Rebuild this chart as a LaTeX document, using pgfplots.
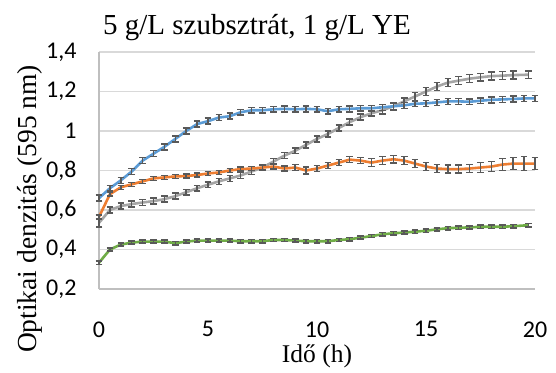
\documentclass[border=0pt]{standalone}
\usepackage{pgfplots}
\pgfplotsset{compat=1.18}
\usepackage{pgfplotstable}
\usepackage{fontspec}
\setmainfont{Liberation Serif}
\newfontfamily\carlito{Carlito}
\definecolor{cblue}{HTML}{5B9BD5}
\definecolor{corange}{HTML}{ED7D31}
\definecolor{cgray}{HTML}{A5A5A5}
\definecolor{cgreen}{HTML}{70AD47}
\definecolor{ebar}{HTML}{595959}
\definecolor{gridc}{HTML}{D9D9D9}
\definecolor{axc}{HTML}{BFBFBF}

\pgfplotstableread{
t y e
0 0.660 0.015
0.5 0.710 0.015
1.0 0.750 0.015
1.5 0.795 0.015
2.0 0.850 0.015
2.5 0.885 0.015
3.0 0.920 0.015
3.5 0.960 0.015
4.0 1.000 0.015
4.5 1.035 0.015
5.0 1.050 0.015
5.5 1.068 0.015
6.0 1.075 0.015
6.5 1.095 0.015
7.0 1.105 0.015
7.5 1.105 0.015
8.0 1.110 0.015
8.5 1.112 0.015
9.0 1.110 0.015
9.5 1.112 0.015
10.0 1.110 0.015
10.5 1.100 0.015
11.0 1.110 0.015
11.5 1.112 0.015
12.0 1.115 0.015
12.5 1.115 0.015
13.0 1.120 0.015
13.5 1.125 0.015
14.0 1.130 0.015
14.5 1.138 0.015
15.0 1.140 0.015
15.5 1.145 0.015
16.0 1.150 0.015
16.5 1.150 0.015
17.0 1.148 0.015
17.5 1.153 0.015
18.0 1.158 0.015
18.5 1.160 0.015
19.0 1.162 0.015
19.5 1.165 0.015
20.0 1.165 0.015
}\blue

\pgfplotstableread{
t y e
0 0.535 0.020
0.5 0.600 0.015
1.0 0.620 0.015
1.5 0.630 0.015
2.0 0.638 0.015
2.5 0.645 0.015
3.0 0.655 0.015
3.5 0.670 0.015
4.0 0.690 0.015
4.5 0.710 0.015
5.0 0.728 0.015
5.5 0.745 0.015
6.0 0.760 0.015
6.5 0.775 0.015
7.0 0.795 0.015
7.5 0.815 0.015
8.0 0.845 0.015
8.5 0.875 0.015
9.0 0.900 0.015
9.5 0.930 0.015
10.0 0.960 0.015
10.5 0.985 0.015
11.0 1.015 0.015
11.5 1.045 0.015
12.0 1.070 0.015
12.5 1.090 0.015
13.0 1.105 0.018
13.5 1.125 0.018
14.0 1.150 0.018
14.5 1.175 0.020
15.0 1.200 0.020
15.5 1.225 0.020
16.0 1.245 0.020
16.5 1.255 0.020
17.0 1.265 0.020
17.5 1.272 0.020
18.0 1.278 0.020
18.5 1.280 0.020
19.0 1.283 0.020
19.7 1.285 0.020
}\gray

\pgfplotstableread{
t y e
0 0.565 0.010
0.5 0.680 0.010
1.0 0.715 0.010
1.5 0.730 0.010
2.0 0.745 0.010
2.5 0.760 0.010
3.0 0.765 0.010
3.5 0.770 0.010
4.0 0.772 0.010
4.5 0.777 0.010
5.0 0.785 0.010
5.5 0.790 0.010
6.0 0.800 0.010
6.5 0.807 0.010
7.0 0.810 0.010
7.5 0.815 0.010
8.0 0.820 0.012
8.5 0.810 0.012
9.0 0.815 0.015
9.5 0.800 0.018
10.0 0.810 0.015
10.5 0.825 0.015
11.0 0.840 0.015
11.5 0.855 0.015
12.0 0.850 0.015
12.5 0.840 0.020
13.0 0.850 0.020
13.5 0.857 0.020
14.0 0.850 0.020
14.5 0.835 0.020
15.0 0.820 0.020
15.5 0.810 0.020
16.0 0.807 0.020
16.5 0.807 0.020
17.0 0.810 0.020
17.5 0.815 0.025
18.0 0.820 0.025
18.5 0.830 0.030
19.0 0.835 0.030
19.5 0.835 0.035
20.0 0.835 0.030
}\orange

\pgfplotstableread{
t y e
0 0.333 0.008
0.5 0.400 0.008
1.0 0.425 0.008
1.5 0.435 0.008
2.0 0.440 0.008
2.5 0.440 0.008
3.0 0.440 0.008
3.5 0.432 0.008
4.0 0.440 0.008
4.5 0.445 0.008
5.0 0.445 0.008
5.5 0.445 0.008
6.0 0.445 0.008
6.5 0.442 0.008
7.0 0.442 0.008
7.5 0.442 0.008
8.0 0.448 0.008
8.5 0.448 0.008
9.0 0.445 0.008
9.5 0.442 0.008
10.0 0.442 0.008
10.5 0.442 0.008
11.0 0.448 0.008
11.5 0.452 0.008
12.0 0.460 0.008
12.5 0.468 0.008
13.0 0.477 0.008
13.5 0.482 0.008
14.0 0.486 0.008
14.5 0.490 0.008
15.0 0.495 0.008
15.5 0.502 0.008
16.0 0.508 0.008
16.5 0.510 0.008
17.0 0.512 0.008
17.5 0.515 0.008
18.0 0.515 0.008
18.5 0.515 0.008
19.0 0.518 0.008
19.7 0.523 0.008
}\green

\begin{document}
\begin{tikzpicture}[x=1bp,y=1bp]
\useasboundingbox (0,0) rectangle (556,372);
\begin{axis}[
  at={(99bp,83bp)}, anchor=south west,
  scale only axis, width=436bp, height=237bp,
  xmin=0, xmax=20, ymin=0.2, ymax=1.4,
  xtick={0,5,10,15,20},
  ytick={0.2,0.4,0.6,0.8,1,1.2,1.4},
  axis x line*=bottom, axis y line*=left,
  axis line style={draw=axc, line width=1.2bp},
  ymajorgrids, grid style={draw=gridc, line width=1.2bp},
  major tick length=0pt,
  xticklabel={\carlito\pgfmathprintnumber[assume math mode=true,use comma,fixed,precision=2]{\tick}},
  yticklabel={\carlito\pgfmathprintnumber[assume math mode=true,use comma,fixed,precision=2]{\tick}},
  xticklabel style={font=\fontsize{24bp}{28bp}\selectfont, yshift=-29bp},
  yticklabel style={font=\fontsize{24bp}{28bp}\selectfont, xshift=-19bp},
  clip=false,
  every axis plot/.append style={line width=2.6bp},
  error bars/y dir=both, error bars/y explicit,
  error bars/error bar style={draw=ebar, line width=1.5bp},
  error bars/error mark options={rotate=90, mark size=3.3bp, draw=ebar, line width=1.5bp},
]
\addplot[cgray, mark=none] table[x=t, y=y, y error=e]{\gray};
\addplot[corange, mark=none] table[x=t, y=y, y error=e]{\orange};
\addplot[cgreen, mark=none] table[x=t, y=y, y error=e]{\green};
\addplot[cblue, mark=none] table[x=t, y=y, y error=e]{\blue};
\end{axis}
\node[font=\fontsize{29bp}{33bp}\selectfont, anchor=base] at (257,338) {5 g/L szubsztrát, 1 g/L YE};
\node[font=\fontsize{27.5bp}{32bp}\selectfont, rotate=90] at (30,163) {Optikai denzitás (595 nm)};
\node[font=\fontsize{25.5bp}{29bp}\selectfont] at (317,16) {Idő (h)};
\end{tikzpicture}
\end{document}
